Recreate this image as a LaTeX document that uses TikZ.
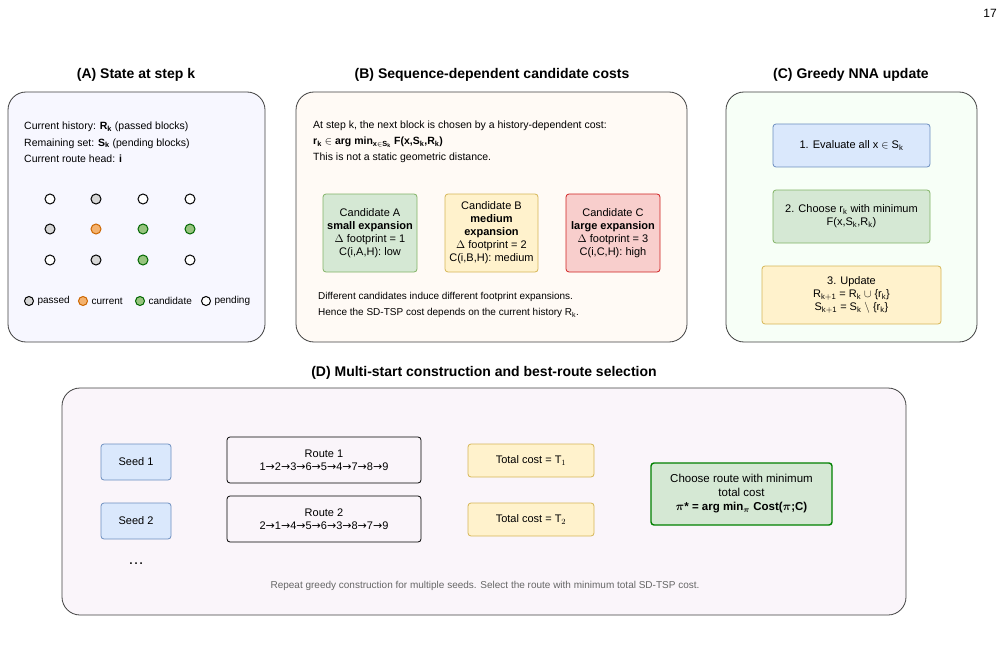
\documentclass[tikz,border=0pt]{standalone}
\usepackage{amsmath,amssymb}
\usepackage{fontspec}
\setmainfont{Liberation Sans}
\newfontfamily\symf{DejaVu Sans}
\definecolor{bF}{HTML}{DAE8FC}\definecolor{bS}{HTML}{6C8EBF}
\definecolor{gF}{HTML}{D5E8D4}\definecolor{gS}{HTML}{82B366}
\definecolor{yF}{HTML}{FFF2CC}\definecolor{yS}{HTML}{D6B656}
\definecolor{rF}{HTML}{F8CECC}\definecolor{rS}{HTML}{D02020}
\definecolor{dG}{HTML}{97C47E}\definecolor{dO}{HTML}{F4B26E}\definecolor{dP}{HTML}{D6D6D6}
\begin{document}
\begin{tikzpicture}[x=1pt,y=-1pt,font=\fontsize{11}{13}\selectfont,
 panel/.style={draw=black!75,rounded corners=18pt,line width=0.8pt},
 ttl/.style={font=\fontsize{14}{16}\selectfont\bfseries},
 bx/.style={draw,rounded corners=3pt,align=center,line width=0.8pt},
 dot/.style={circle,draw=black,line width=1pt,minimum size=10pt,inner sep=0pt},
 sm/.style={font=\fontsize{10}{11}\selectfont},
 blu/.style={bx,fill=bF,draw=bS},
 grn/.style={bx,fill=gF,draw=gS},
 yel/.style={bx,fill=yF,draw=yS},
 red/.style={bx,fill=rF,draw=rS}]
\useasboundingbox (0,0) rectangle (1007,658);
\node[font=\fontsize{12}{13}\selectfont] (pg) at (990,13) {17};
% A
\node[ttl] (ta) at (136,75) {(A) State at step k};
\draw[panel,fill=blue!3!white] (8,92) rectangle (265,342);
\node[anchor=north west,align=left,inner sep=0pt,font=\fontsize{10.5}{16.5}\selectfont] (txa) at (24,122) {Current history: $\mathbf{R_k}$ (passed blocks)\\Remaining set: $\mathbf{S_k}$ (pending blocks)\\Current route head: \textbf{i}};
\foreach \x/\y/\c/\s [count=\n] in {50/199/white/black,96/199/dP/black,143/199/white/black,190/199/white/black,
 50/229/dP/black,96/229/dO/orange!80!black,143/229/dG/green!40!black,190/229/dG/green!40!black,
 50/260/white/black,96/260/dP/black,143/260/dG/green!40!black,190/260/white/black}
 \node[dot,fill=\c,draw=\s] (d\n) at (\x,\y) {};
\node[dot,fill=dP,minimum size=9pt] (l1) at (29,301) {};
\node[anchor=west,sm] (l1t) at (34,301) {passed};
\node[dot,fill=dO,draw=orange!80!black,minimum size=9pt] (l2) at (83,301) {};
\node[anchor=west,sm] (l2t) at (88,301) {current};
\node[dot,fill=dG,draw=green!40!black,minimum size=9pt] (l3) at (140,301) {};
\node[anchor=west,sm] (l3t) at (145,301) {candidate};
\node[dot,fill=white,minimum size=9pt] (l4) at (206,301) {};
\node[anchor=west,sm] (l4t) at (211,301) {pending};
% B
\node[ttl] (tb) at (492,75) {(B) Sequence-dependent candidate costs};
\draw[panel,fill=orange!4!white] (296,92) rectangle (687,342);
\node[anchor=north west,align=left,inner sep=0pt,font=\fontsize{10.5}{16}\selectfont] (txb) at (313,121) {At step k, the next block is chosen by a history-dependent cost:\\$\mathbf{r_k}$ $\in$ \textbf{arg min}$_{\mathbf{x\in S_k}}$ \textbf{F(x,S$_{\mathbf k}$,R$_{\mathbf k}$)}\\This is not a static geometric distance.};
\node[grn,minimum width=94pt,minimum height=78pt,inner sep=1pt] (ca) at (370,233) {Candidate A\\\textbf{small expansion}\\$\Delta$ footprint = 1\\C(i,A,H): low};
\node[yel,minimum width=93pt,minimum height=78pt,inner sep=1pt] (cb) at (491.5,233) {Candidate B\\\textbf{medium}\\\textbf{expansion}\\$\Delta$ footprint = 2\\C(i,B,H): medium};
\node[red,minimum width=94pt,minimum height=78pt,inner sep=1pt] (cc) at (613,233) {Candidate C\\\textbf{large expansion}\\$\Delta$ footprint = 3\\C(i,C,H): high};
\node[anchor=north west,align=left,inner sep=0pt,font=\fontsize{10}{16}\selectfont] (txb2) at (318,292) {Different candidates induce different footprint expansions.\\Hence the SD-TSP cost depends on the current history R$_\mathrm{k}$.};
% C
\node[ttl] (tc) at (851,75) {(C) Greedy NNA update};
\draw[panel,fill=green!3!white] (726,92) rectangle (977,342);
\node[blu,minimum width=157pt,minimum height=43pt] (c1) at (851.5,145.5) {1. Evaluate all x $\in$ S$_\mathrm{k}$};
\node[grn,minimum width=157pt,minimum height=53pt] (c2) at (851.5,216.5) {2. Choose r$_\mathrm{k}$ with minimum\\F(x,S$_\mathrm{k}$,R$_\mathrm{k}$)};
\node[yel,minimum width=179pt,minimum height=58pt] (c3) at (851.5,295) {3. Update\\R$_\mathrm{k+1}$ = R$_\mathrm{k}$ $\cup$ \{r$_\mathrm{k}$\}\\S$_\mathrm{k+1}$ = S$_\mathrm{k}$ $\setminus$ \{r$_\mathrm{k}$\}};
% D
\node[ttl] (td) at (484,373) {(D) Multi-start construction and best-route selection};
\draw[panel,fill=violet!4!white] (62,388) rectangle (906,615);
\node[blu,minimum width=70pt,minimum height=36pt] (s1) at (136,462) {Seed 1};
\node[blu,minimum width=70pt,minimum height=36pt] (s2) at (136,521) {Seed 2};
\node[bx,draw=black,minimum width=194pt,minimum height=46pt] (r1) at (324,460) {Route 1\\1{\symf→}2{\symf→}3{\symf→}6{\symf→}5{\symf→}4{\symf→}7{\symf→}8{\symf→}9};
\node[bx,draw=black,minimum width=194pt,minimum height=46pt] (r2) at (324,519) {Route 2\\2{\symf→}1{\symf→}4{\symf→}5{\symf→}6{\symf→}3{\symf→}8{\symf→}7{\symf→}9};
\node[yel,minimum width=126pt,minimum height=33pt] (t1) at (531,460.5) {Total cost = T$_1$};
\node[yel,minimum width=126pt,minimum height=33pt] (t2) at (531,519.5) {Total cost = T$_2$};
\node[grn,draw=green!50!black,line width=1.4pt,minimum width=181pt,minimum height=62pt,font=\fontsize{11.5}{14}\selectfont] (ch) at (741.5,494) {Choose route with minimum\\total cost\\\textbf{$\boldsymbol{\pi}$* = arg min$_{\boldsymbol\pi}$ Cost($\boldsymbol\pi$;C)}};
\node[font=\fontsize{16}{16}\selectfont] (dots) at (136,564) {\dots};
\node[text=black!60,font=\fontsize{10}{11}\selectfont] (ft) at (485,586) {Repeat greedy construction for multiple seeds. Select the route with minimum total SD-TSP cost.};
\end{tikzpicture}
\end{document}
